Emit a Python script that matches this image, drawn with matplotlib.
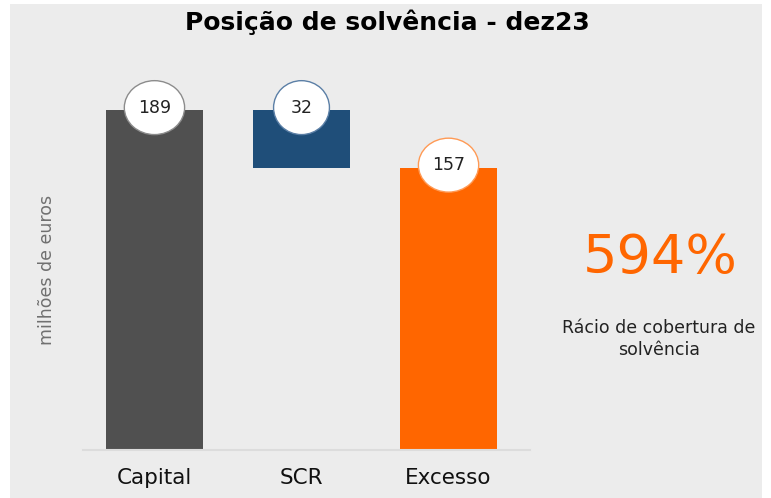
import matplotlib
matplotlib.use('Agg')
import matplotlib.pyplot as plt
import matplotlib.patches as patches

plt.rcParams['font.family'] = ['DejaVu Sans']

# Datos
categorias = ['Capital', 'SCR', 'Excesso']
capital = 189
scr = 32
excesso = 157
ratio = '594%'

valores = [capital, scr, excesso]
bases = [0, excesso, 0]
colores = ['#505050', '#1f4e79', '#ff6600']
bordes = ['#8c8c8c', '#5b7fa6', '#ff9a55']

fig = plt.figure(figsize=(7.71, 4.98), dpi=100)
fig.patch.set_facecolor('white')
fig.patches.append(patches.Rectangle((10 / 771, 0), 752 / 771, 494 / 498,
                                     transform=fig.transFigure, facecolor='#ececec',
                                     edgecolor='none', zorder=-10))

ax = fig.add_axes([83 / 771, 48 / 498, 447 / 771, 390 / 498])
ax.set_facecolor('none')

x = range(len(categorias))
ax.bar(x, valores, bottom=bases, width=0.66, color=colores, zorder=2)

# Etiquetas en elipses
for i, (v, b) in enumerate(zip(valores, bases)):
    top = v + b
    w = 0.41 if v >= 100 else 0.38
    ell = patches.Ellipse((i, top + 1.5), w, 30, facecolor='white',
                          edgecolor=bordes[i], linewidth=1.0, zorder=3)
    ax.add_patch(ell)
    ax.text(i, top + 1.5, str(v), ha='center', va='center', fontsize=12.5,
            color='#222222', zorder=4)

ax.set_xlim(-0.486, 2.554)
ax.set_ylim(0, 217)
for s in ['top', 'right', 'left']:
    ax.spines[s].set_visible(False)
ax.spines['bottom'].set_color('#dcdcdc')
ax.spines['bottom'].set_linewidth(1.5)
ax.set_yticks([])
ax.set_xticks(list(x))
ax.set_xticklabels(categorias, fontsize=15.5, color='#111111')
ax.tick_params(axis='x', length=0, pad=13)

fig.text(0.502, 1 - 22 / 498, 'Posição de solvência - dez23', ha='center', va='center',
         fontsize=18, fontweight='bold', color='black')
fig.text(47 / 771, 1 - 270 / 498, 'milhões de euros', rotation=90, ha='center',
         va='center', fontsize=12.5, color='#707070')
fig.text(660 / 771, 1 - 258 / 498, ratio, ha='center', va='center', fontsize=39,
         color='#ff6600')
fig.text(659 / 771, 1 - 339 / 498, 'Rácio de cobertura de\nsolvência', ha='center',
         va='center', fontsize=12.5, color='#222222', linespacing=1.3)

fig.savefig('out.png', dpi=100)
